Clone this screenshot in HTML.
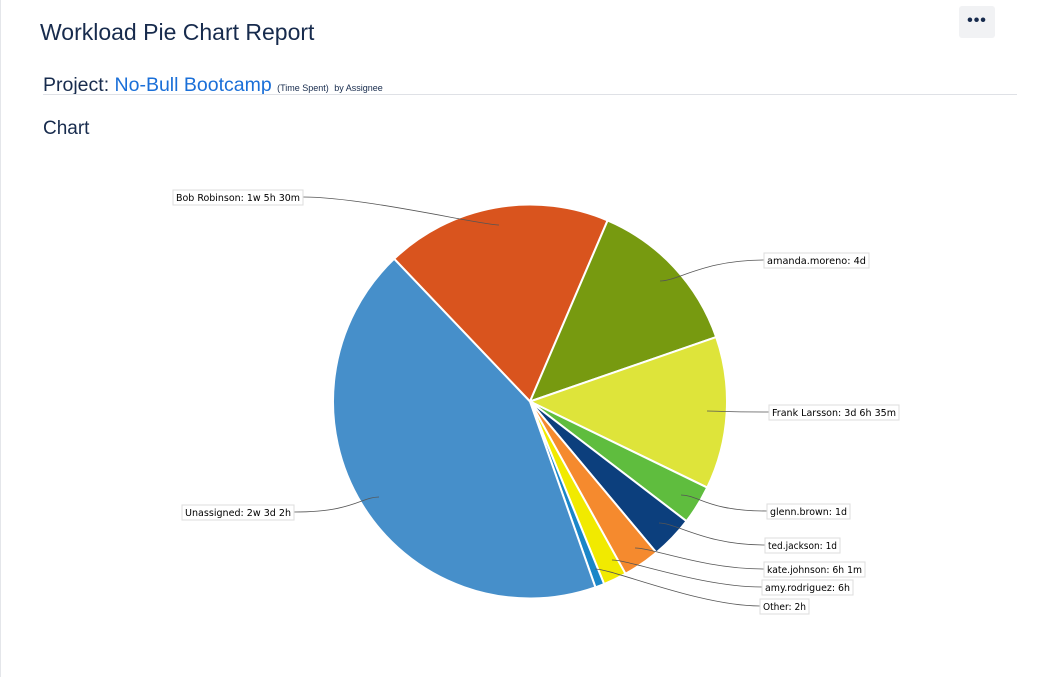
<!DOCTYPE html>
<html><head><meta charset="utf-8"><style>
body{margin:0;width:1041px;height:677px;background:#fff;font-family:"Liberation Sans",sans-serif;position:relative;overflow:hidden;border-left:1px solid #e4e6ea;box-sizing:border-box}
.t{position:absolute;left:39px;top:19px;font-size:23px;color:#172b4d}
.p{position:absolute;left:42px;top:74px;font-size:19.5px;color:#172b4d;white-space:nowrap}
.p a{color:#1a6fd8;text-decoration:none}
.p small{font-size:9px;color:#172b4d}
.hr{position:absolute;left:42px;top:94px;width:974px;height:1px;background:#dfe1e6}
.c{position:absolute;left:42px;top:118px;font-size:19px;color:#172b4d}
.m{position:absolute;left:958px;top:6px;width:36px;height:32px;background:#f1f2f4;border-radius:3px;text-align:center;line-height:30px;font-size:16px;font-weight:bold;color:#172b4d;letter-spacing:1px}
svg{position:absolute;left:0;top:0}
svg text{font-family:"DejaVu Sans",sans-serif;font-size:9.5px;fill:#000}
</style></head><body>
<div class="t">Workload Pie Chart Report</div>
<div class="p">Project: <a>No-Bull Bootcamp</a> <small>(Time Spent)</small> <small>by Assignee</small></div>
<div class="hr"></div>
<div class="c">Chart</div>
<div class="m">•••</div>
<svg id="s" width="1041" height="677"></svg>
<script>
var cx=529,cy=401.5,r=197;
var sl=[[316.4,383.2,"#d9541e"],[23.2,70.9,"#779a10"],[70.9,115.9,"#dee43a"],[115.9,127.4,"#5fbd3e"],[127.4,140.1,"#0c3f7d"],[140.1,151,"#f58a2e"],[151,157.9,"#f1ea00"],[157.9,160.6,"#1a86c8"],[160.6,316.4,"#468fca"]];
function pt(a){a=a*Math.PI/180;return [cx+r*Math.sin(a),cy-r*Math.cos(a)];}
var h="";
sl.forEach(function(s){var a=pt(s[0]),b=pt(s[1]);var l=(s[1]-s[0])>180?1:0;
h+='<path d="M'+cx+','+cy+'L'+a[0]+','+a[1]+'A'+r+','+r+' 0 '+l+' 1 '+b[0]+','+b[1]+'Z" fill="'+s[2]+'" stroke="#fff" stroke-width="2" stroke-linejoin="round"/>';});
var L=[["Bob Robinson: 1w 5h 30m",172,190,130,302,197,498,225],["amanda.moreno: 4d",763,253,105,763,260,659,281],["Frank Larsson: 3d 6h 35m",768,405,130,768,412,706,411],["glenn.brown: 1d",766,504,83,766,511,680,495],["ted.jackson: 1d",764,538,75,764,545,658,523],["kate.johnson: 6h 1m",763,562,101,763,569,634,548],["amy.rodriguez: 6h",761,580,91,761,587,611,560],["Other: 2h",759,599,49,759,606,594,569],["Unassigned: 2w 3d 2h",181,505,112,293,512,378,497]];
L.forEach(function(o){var x1=o[4],y1=o[5],x2=o[6],y2=o[7];
h+='<path d="M'+x1+','+y1+'C'+(x1+(x2>x1?60:-60))+','+y1+' '+(x2+(x2>x1?-60:60)*0.3)+','+y2+' '+x2+','+y2+'" fill="none" stroke="#555" stroke-width="0.8"/>';
h+='<rect x="'+o[1]+'" y="'+o[2]+'" width="'+o[3]+'" height="15" fill="#fff" stroke="#ddd"/>';
h+='<text x="'+(o[1]+3)+'" y="'+(o[2]+11)+'" textLength="'+(o[3]-6)+'" lengthAdjust="spacingAndGlyphs">'+o[0]+'</text>';});
document.getElementById("s").innerHTML=h;
</script>
</body></html>
